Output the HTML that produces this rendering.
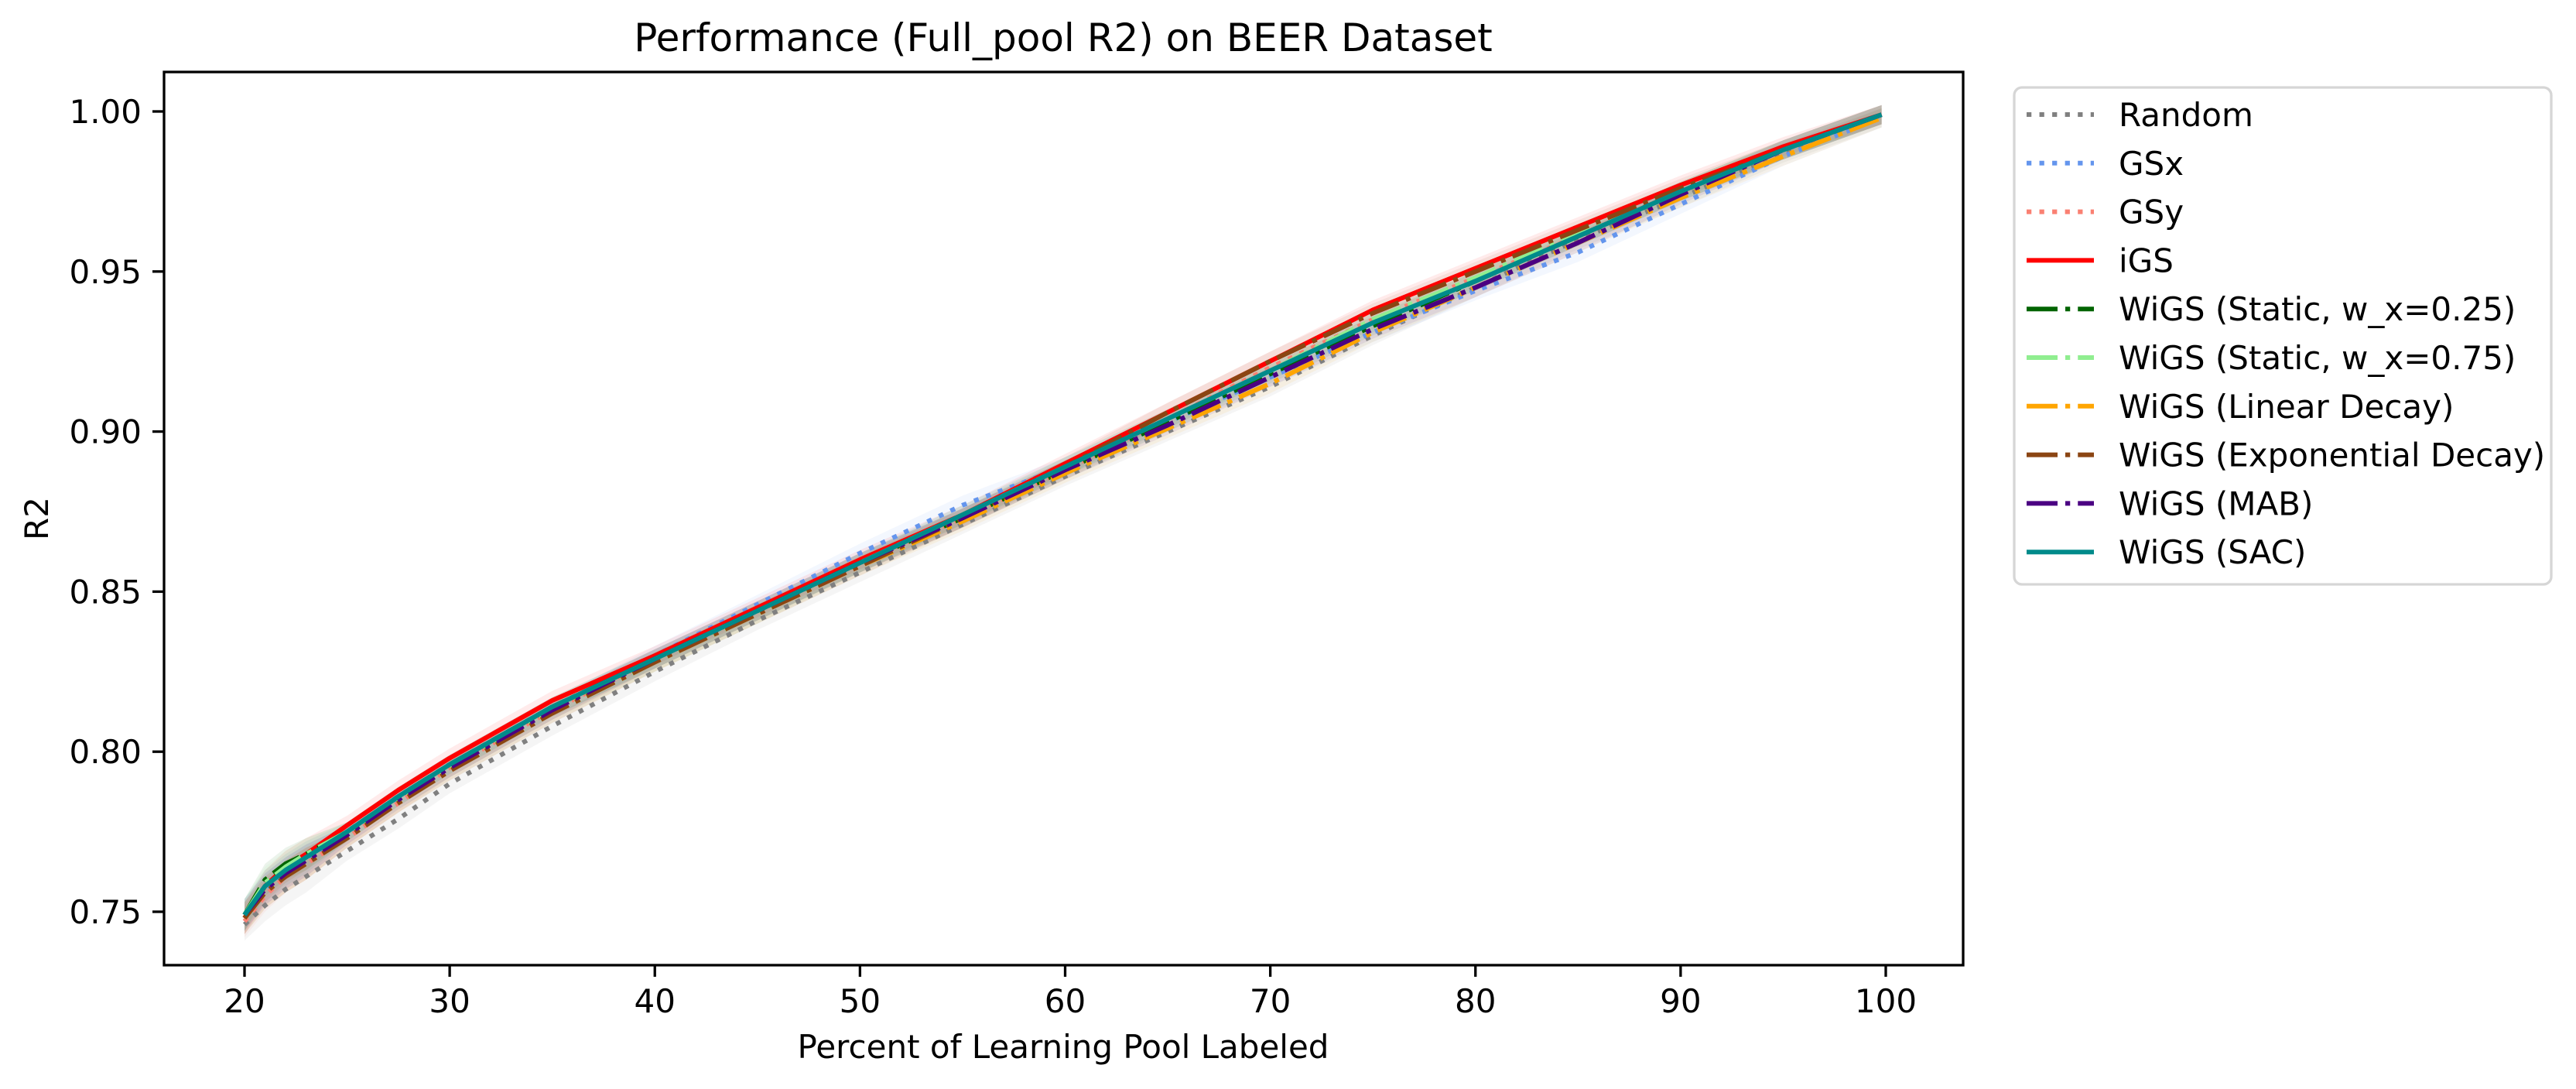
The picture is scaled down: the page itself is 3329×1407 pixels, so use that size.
<!DOCTYPE html>
<html><head><meta charset="utf-8"><style>
html,body{margin:0;padding:0;background:#fff;}
svg{display:block;font-family:"DejaVu Sans","Liberation Sans",sans-serif;}
</style></head><body>
<svg id="chart" width="3329" height="1407" viewBox="0 0 3329 1407" xmlns="http://www.w3.org/2000/svg">
<rect width="3329" height="1407" fill="#fff"/>
<text x="1374" y="66" font-size="50" text-anchor="middle">Performance (Full_pool R2) on BEER Dataset</text>
<g id="bands"></g>
<g id="lines"></g>
<g id="axes"></g>
<rect x="212" y="93" width="2325" height="1154" fill="none" stroke="#000" stroke-width="3.3"/>
<text x="1374" y="1367" font-size="42" text-anchor="middle">Percent of Learning Pool Labeled</text>
<text x="0" y="0" font-size="42" text-anchor="middle" transform="translate(62,670) rotate(-90)">R2</text>
<g id="legend"></g>
</svg>
<script>
const xs = [20,21,22,23,25,27.5,30,35,40,45,50,55,60,65,70,75,80,85,90,95,99.8];
const names = ["Random","GSx","GSy","iGS","WiGS (Static, w_x=0.25)","WiGS (Static, w_x=0.75)","WiGS (Linear Decay)","WiGS (Exponential Decay)","WiGS (MAB)","WiGS (SAC)"];
const randomVals = [.746,.752,.757,.761,.769,.779,.790,.808,.825,.841,.856,.871,.886,.900,.914,.930,.945,.960,.973,.987,.998];
const gsxVals = [.748,.757,.762,.766,.774,.785,.795,.813,.830,.846,.862,.877,.889,.903,.917,.931,.944,.956,.971,.986,.998];
const gsyVals = [.747,.755,.761,.765,.773,.784,.795,.813,.829,.844,.859,.873,.888,.904,.920,.935,.948,.961,.975,.988,.999];
const igsVals = [.748,.758,.764,.768,.777,.788,.798,.816,.830,.845,.860,.874,.890,.906,.922,.938,.951,.964,.977,.989,.999];
const static25Vals = [.749,.760,.765,.768,.775,.786,.796,.814,.829,.844,.859,.873,.888,.903,.918,.933,.947,.961,.975,.988,.999];
const static75Vals = [.749,.759,.764,.768,.775,.785,.795,.813,.828,.843,.859,.874,.889,.904,.919,.935,.948,.962,.975,.988,.999];
const linearVals = [.748,.756,.761,.765,.773,.784,.794,.812,.828,.843,.858,.872,.887,.901,.915,.931,.945,.959,.973,.986,.998];
const expVals = [.748,.756,.761,.765,.773,.784,.794,.812,.828,.843,.858,.873,.889,.906,.922,.937,.950,.963,.976,.988,.999];
const mabVals = [.749,.757,.762,.766,.774,.785,.795,.813,.829,.844,.859,.873,.888,.902,.917,.932,.945,.959,.974,.988,.999];
const sacVals = [.749,.758,.763,.767,.775,.786,.796,.814,.829,.844,.859,.874,.889,.904,.919,.934,.947,.961,.975,.988,.999];
const xTicks = [20,30,40,50,60,70,80,90,100];
const yTicks = [0.75,0.80,0.85,0.90,0.95,1.00];

const series = [randomVals,gsxVals,gsyVals,igsVals,static25Vals,static75Vals,linearVals,expVals,mabVals,sacVals];
const colors = ["#808080","#6495ED","#FA8072","#FF0000","#006400","#90EE90","#FFA500","#8B4513","#4B0082","#008B8B"];
const dashes = ["6.25 10.3","6.25 10.3","6.25 10.3","","40 10 6.25 10","40 10 6.25 10","40 10 6.25 10","40 10 6.25 10","40 10 6.25 10",""];
const slugs = ["random","gsx","gsy","igs","wigs-static-025","wigs-static-075","wigs-linear-decay","wigs-exponential-decay","wigs-mab","wigs-sac"];

const NS = "http://www.w3.org/2000/svg";
function X(v){ return 316 + (v-20)*(2437-316)/80; }
function Y(v){ return 144 + (1.00-v)*(1178-144)/0.25; }
function mk(tag, attrs, parent){ const e=document.createElementNS(NS,tag); for(const k in attrs) e.setAttribute(k,attrs[k]); parent.appendChild(e); return e; }

const bands = document.getElementById('bands');
const lines = document.getElementById('lines');
const axes = document.getElementById('axes');
const legend = document.getElementById('legend');

series.forEach((vals,i)=>{
  let up = xs.map((x,j)=>X(x)+','+Y(vals[j]+(j<4?0.005:0.003)));
  let dn = xs.map((x,j)=>X(x)+','+Y(vals[j]-(j<4?0.005:0.003))).reverse();
  const b = mk('polygon',{points:up.concat(dn).join(' '),fill:colors[i],'fill-opacity':0.08,stroke:'none'},bands);
  
  
  const p = mk('polyline',{points:xs.map((x,j)=>X(x)+','+Y(vals[j])).join(' '),fill:'none',stroke:colors[i],'stroke-width':6,'stroke-linejoin':'round'},lines);
  if(dashes[i]) p.setAttribute('stroke-dasharray',dashes[i]);
  
  
});

xTicks.forEach(t=>{
  const l = mk('line',{x1:X(t),x2:X(t),y1:1247,y2:1262,stroke:'#000','stroke-width':3.3},axes);
  
  
  const tx = mk('text',{x:X(t),y:1308,'font-size':42,'text-anchor':'middle'},axes);
  tx.textContent = String(t);
  
  
});
yTicks.forEach(t=>{
  const l = mk('line',{x1:197,x2:212,y1:Y(t),y2:Y(t),stroke:'#000','stroke-width':3.3},axes);
  
  
  const tx = mk('text',{x:183,y:Y(t)+15,'font-size':42,'text-anchor':'end'},axes);
  tx.textContent = t.toFixed(2);
  
  
});

const box = mk('rect',{x:2603,y:113,width:694,height:642,rx:10,fill:'#fff','fill-opacity':0.8,stroke:'#d6d6d6','stroke-width':3.3},legend);


names.forEach((n,i)=>{
  const y = 148 + i*62.8;
  const g = mk('g',{},legend);
  
  
  const l = mk('line',{x1:2619,x2:2706,y1:y,y2:y,stroke:colors[i],'stroke-width':6},g);
  if(dashes[i]) l.setAttribute('stroke-dasharray',dashes[i]);
  const t = mk('text',{x:2738,y:y+15,'font-size':42},g);
  t.textContent = n;
});
</script>
</body></html>
